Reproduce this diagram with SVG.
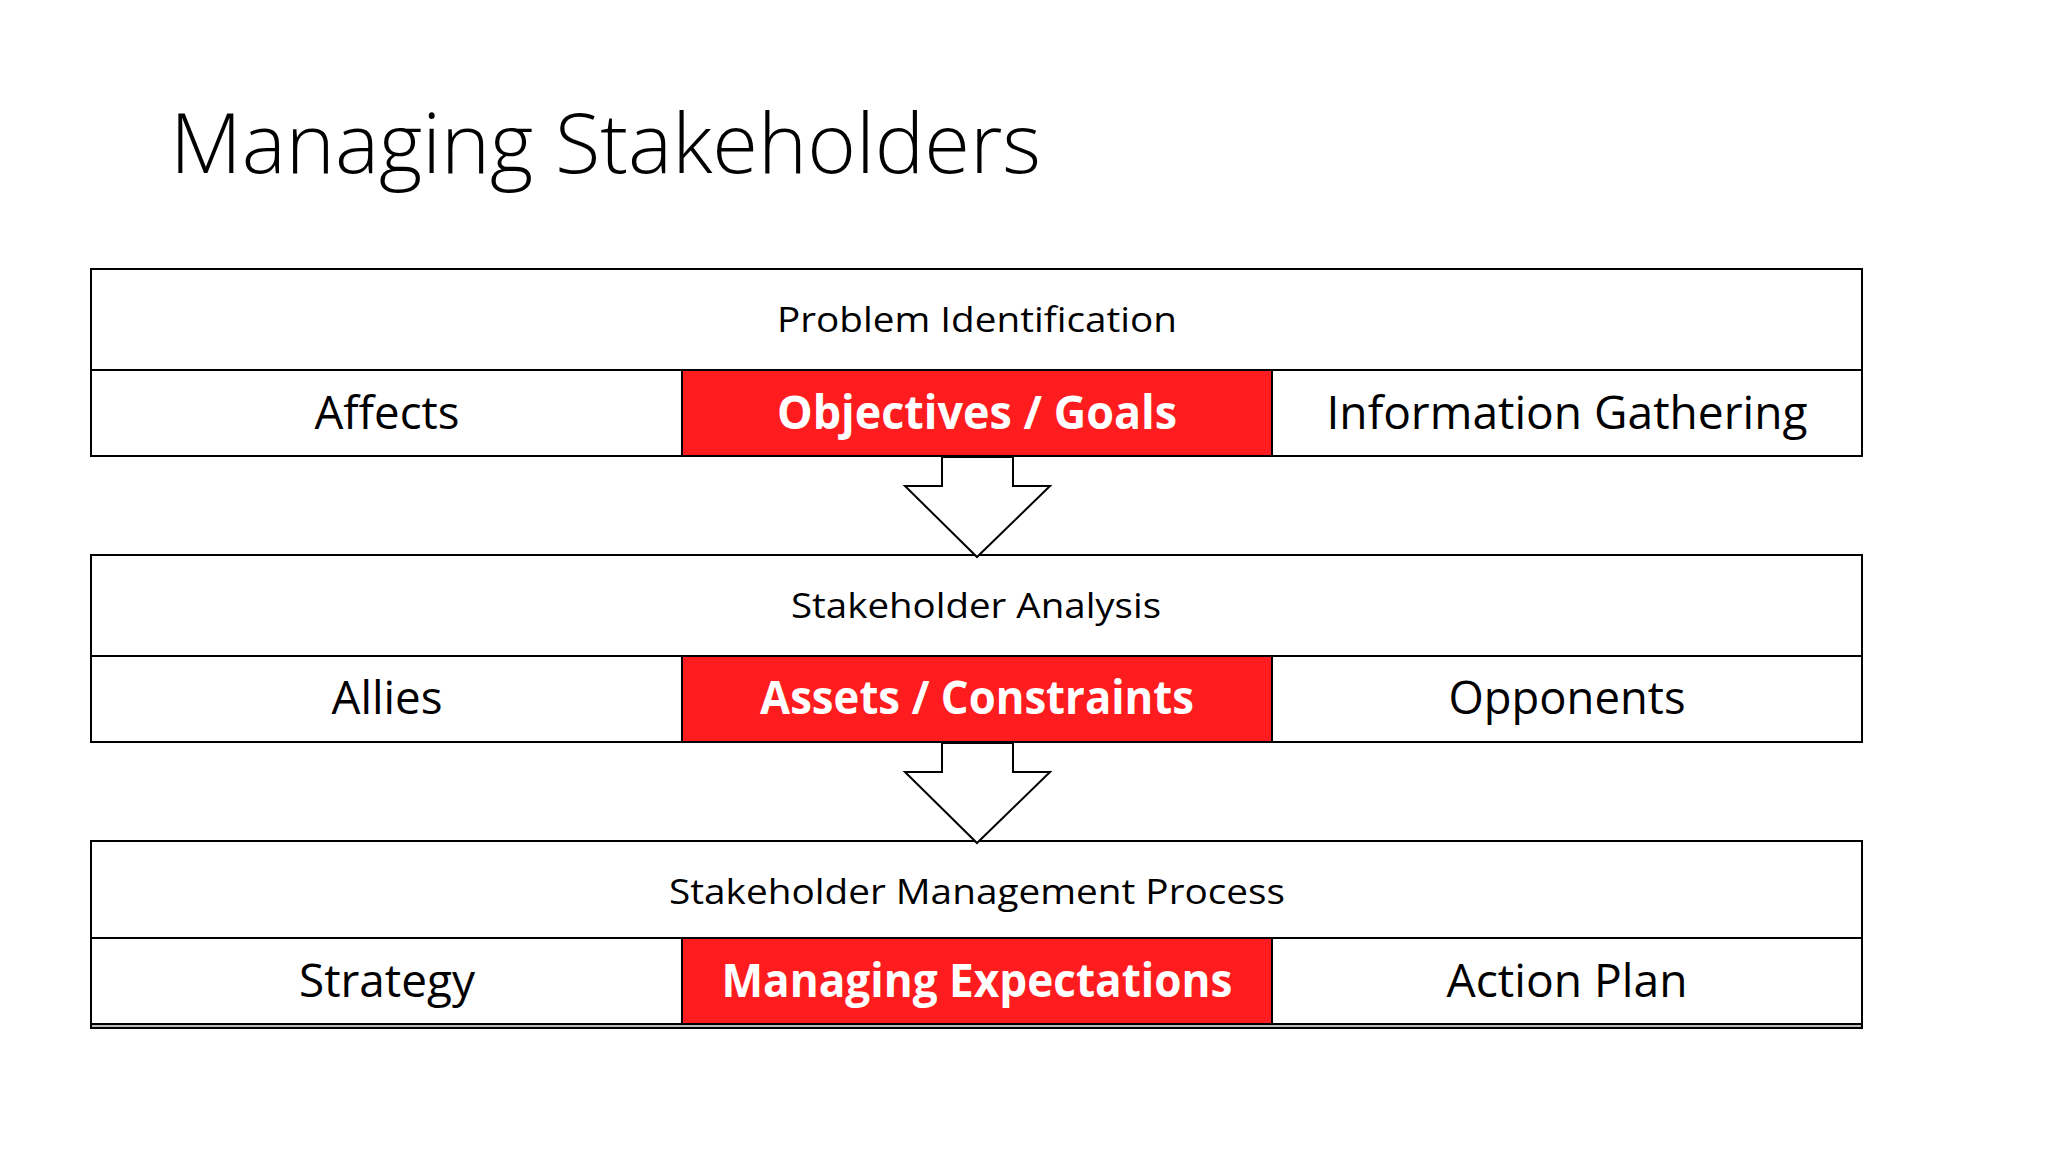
<svg xmlns="http://www.w3.org/2000/svg" width="2048" height="1152" viewBox="0 0 2048 1152">
<style>
.frame{fill:#fff;stroke:#000;stroke-width:2}
.red{fill:#FE1C1F;stroke:#000;stroke-width:2}
.ln{stroke:#000;stroke-width:2;fill:none}
.arrow{fill:#fff;stroke:#000;stroke-width:2;stroke-linejoin:miter}
.hd{font-family:"Open Sans","Noto Sans","Liberation Sans",sans-serif;font-size:34px;fill:#000;text-anchor:middle}
.cell{font-family:"Open Sans","Noto Sans","Liberation Sans",sans-serif;font-size:46px;fill:#000;text-anchor:middle}
.hl{font-family:"Open Sans","Noto Sans","Liberation Sans",sans-serif;font-size:46px;font-weight:bold;fill:#fff;text-anchor:middle}
.title{font-family:"Open Sans","Noto Sans","Liberation Sans",sans-serif;font-size:83px;font-weight:300;fill:#000}
</style>
<rect width="2048" height="1152" fill="#fff"/>
<text class="title" x="170" y="173" textLength="871" lengthAdjust="spacingAndGlyphs">Managing Stakeholders</text>

<g id="box-problem-identification">
<rect class="frame" x="91" y="269" width="1771" height="187"/>
<line class="ln" x1="91" y1="370" x2="1862" y2="370"/>
<text class="hd" x="977" y="332" textLength="400" lengthAdjust="spacingAndGlyphs">Problem Identification</text>
<g id="cell-affects"><rect class="frame" x="91" y="370" width="591" height="86"/>
<text class="cell" x="387" y="429" textLength="145" lengthAdjust="spacingAndGlyphs">Affects</text></g>
<g id="cell-objectives"><rect class="red" x="682" y="370" width="590" height="86"/>
<text class="hl" x="977" y="429" textLength="400" lengthAdjust="spacingAndGlyphs">Objectives / Goals</text></g>
<g id="cell-information"><rect class="frame" x="1272" y="370" width="590" height="86"/>
<text class="cell" x="1567" y="429" textLength="481" lengthAdjust="spacingAndGlyphs">Information Gathering</text></g>
</g>

<g id="box-stakeholder-analysis">
<rect class="frame" x="91" y="555" width="1771" height="187"/>
<line class="ln" x1="91" y1="656" x2="1862" y2="656"/>
<text class="hd" x="976" y="618" textLength="370" lengthAdjust="spacingAndGlyphs">Stakeholder Analysis</text>
<g id="cell-allies"><rect class="frame" x="91" y="656" width="591" height="86"/>
<text class="cell" x="387" y="714" textLength="111" lengthAdjust="spacingAndGlyphs">Allies</text></g>
<g id="cell-assets"><rect class="red" x="682" y="656" width="590" height="86"/>
<text class="hl" x="977" y="714" textLength="434" lengthAdjust="spacingAndGlyphs">Assets / Constraints</text></g>
<g id="cell-opponents"><rect class="frame" x="1272" y="656" width="590" height="86"/>
<text class="cell" x="1567" y="714" textLength="237" lengthAdjust="spacingAndGlyphs">Opponents</text></g>
</g>

<g id="box-management-process">
<rect class="frame" x="91" y="841" width="1771" height="187"/>
<line class="ln" x1="91" y1="938" x2="1862" y2="938"/>
<line x1="92" y1="1026" x2="1861" y2="1026" stroke="#bbb" stroke-width="2"/>
<text class="hd" x="977" y="904" textLength="616" lengthAdjust="spacingAndGlyphs">Stakeholder Management Process</text>
<g id="cell-strategy"><rect class="frame" x="91" y="938" width="591" height="86"/>
<text class="cell" x="387" y="997" textLength="176" lengthAdjust="spacingAndGlyphs">Strategy</text></g>
<g id="cell-expectations"><rect class="red" x="682" y="938" width="590" height="86"/>
<text class="hl" x="977" y="997" textLength="511" lengthAdjust="spacingAndGlyphs">Managing Expectations</text></g>
<g id="cell-action-plan"><rect class="frame" x="1272" y="938" width="590" height="86"/>
<text class="cell" x="1567" y="997" textLength="241" lengthAdjust="spacingAndGlyphs">Action Plan</text></g>
</g>

<g id="connectors">
<polygon class="arrow" points="942,457 942,486 905,486 977,557 1050,486 1013,486 1013,457"/>
<polygon class="arrow" points="942,743 942,772 905,772 977,843 1050,772 1013,772 1013,743"/>
</g>
</svg>
